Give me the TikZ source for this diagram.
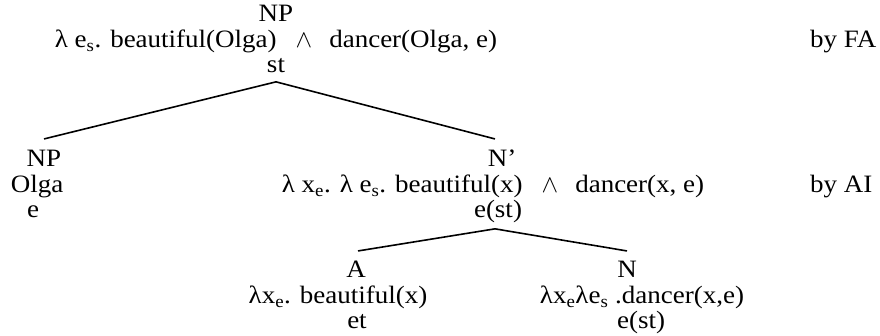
\documentclass[tikz,border=0pt]{standalone}
\usepackage{fontspec}
\setmainfont{Liberation Serif}[FakeStretch=1.08]
\newcommand\lsub[1]{\textsubscript{#1}}
\newcommand\andsym{\hspace{19pt}$\wedge$\hspace{17pt}}
\begin{document}
\begin{tikzpicture}[x=1pt,y=-1pt,
  every node/.style={inner sep=0pt, font=\fontsize{25}{25.5}\selectfont},
  tree/.style={anchor=base},
  note/.style={anchor=base west},
  edge/.style={line width=1.6pt}]
\useasboundingbox (0,0) rectangle (880,336);
\node[tree] (top) at (276,22) {\begin{tabular}[t]{@{}c@{}}NP\\λ e\lsub{s}. beautiful(Olga)\andsym dancer(Olga, e)\\st\end{tabular}};
\node[note] (byfa) at (810,47.5) {by FA};
\node[tree] (np) at (44,167) {\begin{tabular}[t]{@{}c@{}}NP\\Olga\kern14pt\\e\kern22pt\end{tabular}};
\node[tree] (nbar) at (495,167) {\begin{tabular}[t]{@{}c@{}}\kern14pt N’\\λ x\lsub{e}. λ e\lsub{s}. beautiful(x)\andsym dancer(x, e)\kern4pt\\\kern6pt e(st)\end{tabular}};
\node[note] (byai) at (810,193) {by AI};
\node[tree] (a) at (358,278) {\begin{tabular}[t]{@{}c@{}}A\kern4pt\\λx\lsub{e}. beautiful(x)\kern40pt\\et\kern2pt\end{tabular}};
\node[tree] (n) at (627,278) {\begin{tabular}[t]{@{}c@{}}N\\\kern30pt λx\lsub{e}λe\lsub{s} .dancer(x,e)\\\kern28pt e(st)\end{tabular}};
\draw[edge] ([yshift=-1pt]top.south) -- ([yshift=10pt]np.north);
\draw[edge] ([yshift=-1pt]top.south) -- ([yshift=10pt]nbar.north);
\draw[edge] ([yshift=-3pt]nbar.south) -- ([yshift=9pt]a.north);
\draw[edge] ([yshift=-3pt]nbar.south) -- ([yshift=9pt]n.north);
\end{tikzpicture}
\end{document}
